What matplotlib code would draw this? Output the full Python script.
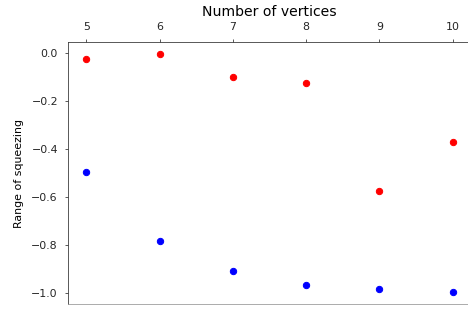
import matplotlib
matplotlib.use("Agg")
import matplotlib.pyplot as plt

vertices = [5, 6, 7, 8, 9, 10]
upper = [-0.026, -0.004, -0.099, -0.124, -0.573, -0.372]
lower = [-0.495, -0.784, -0.908, -0.966, -0.983, -0.995]

fig = plt.figure(figsize=(468/72, 312/72), dpi=72)
ax = fig.add_axes([68/468, 8/312, 403/468, 262/312])
ax.scatter(vertices, upper, color='red', s=40, linewidths=1, edgecolors='red', zorder=3)
ax.scatter(vertices, lower, color='blue', s=40, linewidths=1, edgecolors='blue', zorder=3)

ax.xaxis.tick_top()
ax.xaxis.set_label_position('top')
ax.set_xlabel('Number of vertices', fontsize=14, labelpad=6)
ax.set_ylabel('Range of squeezing', fontsize=11, labelpad=7)
ax.set_xticks(vertices)
ax.set_yticks([0.0, -0.2, -0.4, -0.6, -0.8, -1.0])
ax.tick_params(labelsize=11, pad=6.5, colors='#333333', labelcolor='#262626')
ax.spines['right'].set_visible(False)
ax.spines['bottom'].set_color('#999999')
ax.spines['top'].set_color('#333333')
ax.spines['left'].set_color('#333333')

fig.savefig('out.png', dpi=72)
